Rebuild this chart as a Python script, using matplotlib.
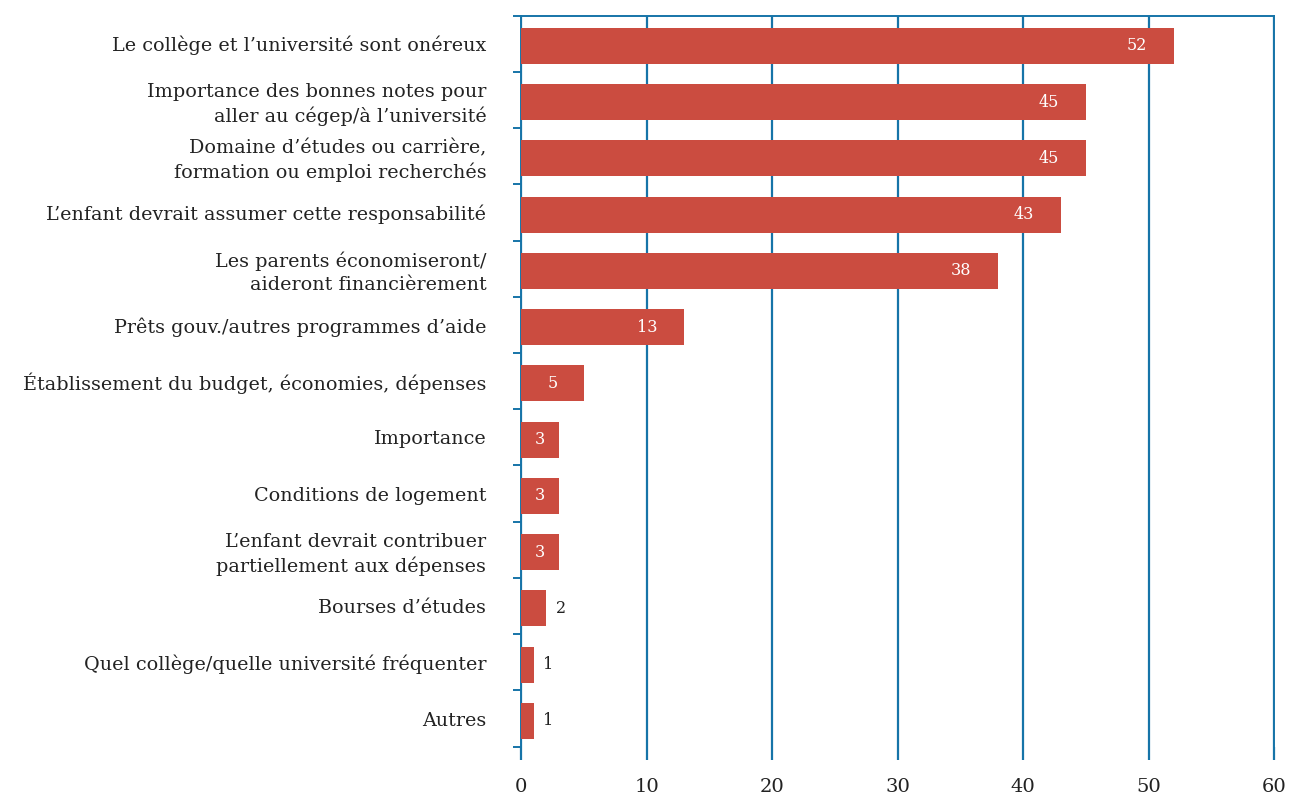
import numpy as np
import matplotlib
matplotlib.use("Agg")
import matplotlib.pyplot as plt

# ── données ──────────────────────────────────────────────
categories = [
    "Le collège et l\u2019université sont onéreux",
    "Importance des bonnes notes pour\naller au cégep/à l\u2019université",
    "Domaine d\u2019études ou carrière,\nformation ou emploi recherchés",
    "L\u2019enfant devrait assumer cette responsabilité",
    "Les parents économiseront/\naideront financièrement",
    "Prêts gouv./autres programmes d\u2019aide",
    "Établissement du budget, économies, dépenses",
    "Importance",
    "Conditions de logement",
    "L\u2019enfant devrait contribuer\npartiellement aux dépenses",
    "Bourses d\u2019études",
    "Quel collège/quelle université fréquenter",
    "Autres",
]
valeurs = [52, 45, 45, 43, 38, 13, 5, 3, 3, 3, 2, 1, 1]
x_ticks = [0, 10, 20, 30, 40, 50, 60]

ROUGE = "#CB4C40"
BLEU = "#1674A8"

plt.rcParams["font.family"] = ["DejaVu Serif"]

fig = plt.figure(figsize=(12.89, 7.96), dpi=100)
ax = fig.add_axes([0.4042, 0.0619, 0.5842, 0.9186])

y = np.arange(len(categories))
yb = y + 0.04  # barres légèrement décalées vers le bas, comme l'original
ax.barh(yb, valeurs, height=0.64, color=ROUGE, zorder=3)

ax.set_xlim(0, 60)
ax.set_ylim(len(categories) - 0.5, -0.5)

# grille verticale
ax.set_xticks(x_ticks)
ax.grid(axis="x", color=BLEU, linewidth=1.6, zorder=1)
ax.tick_params(axis="x", direction="out", length=9.5, width=1.6, color=BLEU,
               pad=13, labelsize=14, labelcolor="#222222")

# ticks de séparation à gauche, libellés au centre
ax.set_yticks(np.arange(len(categories) + 1) - 0.5)
ax.set_yticklabels([])
ax.set_yticks(y, minor=True)
ax.set_yticklabels(categories, minor=True, fontsize=13.8, color="#222222",
                   linespacing=1.35)
ax.tick_params(axis="y", which="major", direction="out", length=6, width=1.4,
               color=BLEU)
ax.tick_params(axis="y", which="minor", length=0, pad=25)

ax.spines["bottom"].set_visible(False)
for side in ["top", "left", "right"]:
    ax.spines[side].set_color(BLEU)
    ax.spines[side].set_linewidth(1.4)

# valeurs
for yi, v in zip(yb, valeurs):
    if v >= 5:
        ax.annotate(str(v), (v, yi), xytext=(-19, 0), textcoords="offset points",
                    ha="right", va="center", color="white", fontsize=11.5, zorder=4)
    elif v >= 3:
        ax.text(v / 2, yi, str(v), ha="center", va="center", color="white",
                fontsize=11.5, zorder=4)
    else:
        ax.annotate(str(v), (v, yi), xytext=(7, 0), textcoords="offset points",
                    ha="left", va="center", color="#222222", fontsize=11.5, zorder=4)

plt.savefig("out.png", dpi=100)
